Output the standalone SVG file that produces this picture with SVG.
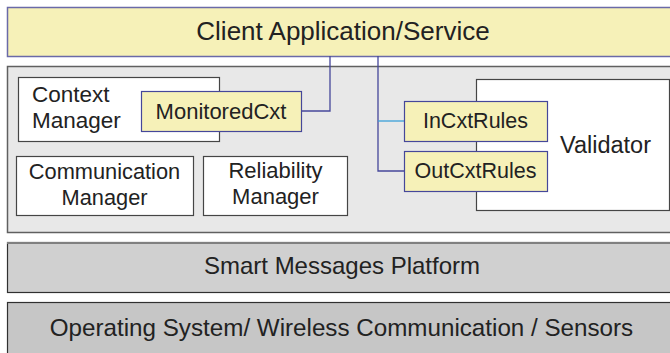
<svg xmlns="http://www.w3.org/2000/svg" width="670" height="353" viewBox="0 0 670 353">
<style>
text{font-family:"Liberation Sans",Arial,sans-serif;fill:#222;}
.c{text-anchor:middle;}
.y{fill:#f6f1b8;stroke:#45479a;stroke-width:1.2;}
.w{fill:#ffffff;stroke:#454545;stroke-width:1.2;}
.conn{fill:none;stroke:#45479a;stroke-width:1.3;}
</style>
<rect x="0" y="0" width="670" height="353" fill="#ffffff"/>
<g id="client">
<rect x="7.5" y="7.5" width="666" height="49" fill="#f6f1b8" stroke="#6a6aa8" stroke-width="1.5"/>
<text class="c" x="343" y="39.5" font-size="26">Client Application/Service</text>
</g>
<g id="middle-layer">
<rect x="7.5" y="66.5" width="666" height="166" fill="#e8e8e8" stroke="#606060" stroke-width="1.5"/>
</g>
<g id="context-manager">
<rect class="w" x="18.5" y="77.5" width="201" height="64"/>
<text x="32" y="101.5" font-size="22.5">Context</text>
<text x="32" y="128" font-size="22.5">Manager</text>
</g>
<g id="communication-manager">
<rect class="w" x="16.5" y="156.5" width="177" height="59"/>
<text class="c" x="104.5" y="179" font-size="21.8">Communication</text>
<text class="c" x="104.5" y="205" font-size="21.8">Manager</text>
</g>
<g id="reliability-manager">
<rect class="w" x="203.5" y="156.5" width="144" height="59"/>
<text class="c" x="275.5" y="178" font-size="22">Reliability</text>
<text class="c" x="275.5" y="204" font-size="22">Manager</text>
</g>
<g id="validator">
<rect class="w" x="476.5" y="79.5" width="193" height="131"/>
<text class="c" x="605.5" y="152.5" font-size="23.5">Validator</text>
</g>
<g id="connectors">
<polyline class="conn" points="301,111 330,111 330,56"/>
<polyline class="conn" points="378,56 378,171 404,171"/>
<line x1="378" y1="121" x2="404" y2="121" stroke="#3aa0d8" stroke-width="1.3"/>
</g>
<g id="monitoredcxt">
<rect class="y" x="141.5" y="91.5" width="160" height="40"/>
<text class="c" x="221" y="118.5" font-size="22">MonitoredCxt</text>
</g>
<g id="incxtrules">
<rect class="y" x="404.5" y="101.5" width="143" height="40"/>
<text class="c" x="475.5" y="128" font-size="21.5">InCxtRules</text>
</g>
<g id="outcxtrules">
<rect class="y" x="404.5" y="151.5" width="143" height="40"/>
<text class="c" x="475.5" y="177.5" font-size="21.5">OutCxtRules</text>
</g>
<g id="smart-messages">
<rect x="7.5" y="242.5" width="666" height="50" fill="#d0d0d0" stroke="#303030" stroke-width="1.2"/>
<line x1="7" y1="243" x2="670" y2="243" stroke="#808080" stroke-width="2"/>
<text class="c" x="342" y="274" font-size="24">Smart Messages Platform</text>
</g>
<g id="os-layer">
<rect x="7.5" y="302.5" width="666" height="60" fill="#c6c6c6" stroke="#303030" stroke-width="1.2"/>
<text class="c" x="341.5" y="335.5" font-size="24.2">Operating System/ Wireless Communication / Sensors</text>
</g>
</svg>
